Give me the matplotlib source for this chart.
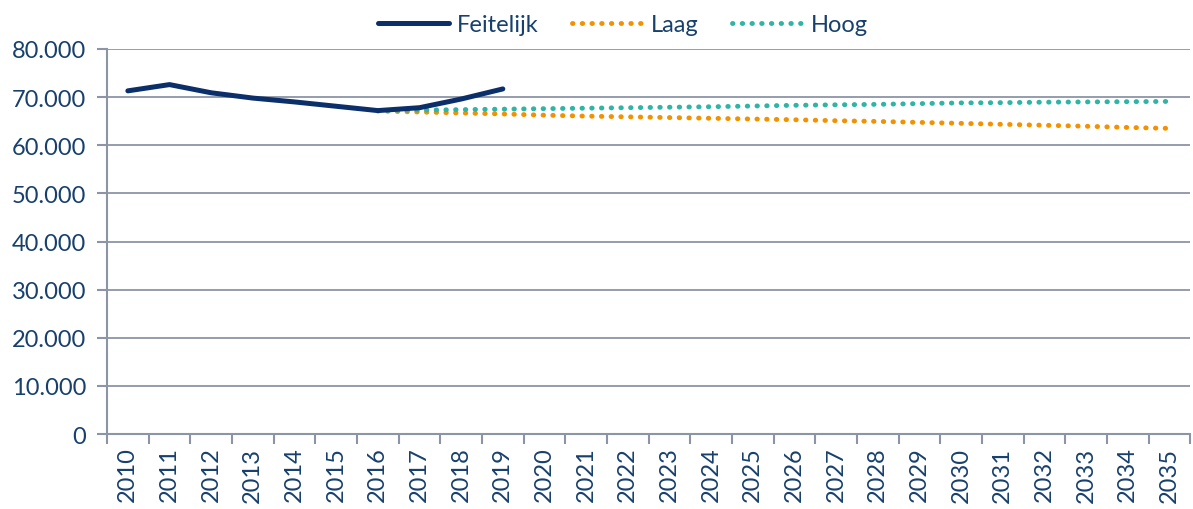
import numpy as np
import matplotlib.pyplot as plt
from matplotlib.ticker import FuncFormatter

years = list(range(2010, 2036))

feitelijk_years = list(range(2010, 2020))
feitelijk = [71300, 72600, 70900, 69800, 69000, 68100, 67200, 67800, 69600, 71700]

proj_years = list(range(2016, 2036))
laag = [67100, 66900, 66700, 66500, 66250, 66050, 65900, 65750, 65600, 65450,
        65300, 65100, 64950, 64750, 64550, 64350, 64150, 63950, 63700, 63500]
hoog = [67200, 67300, 67400, 67500, 67600, 67700, 67800, 67900, 68000, 68150,
        68300, 68400, 68500, 68650, 68800, 68850, 68950, 69000, 69050, 69100]

navy = "#0B2F6B"
orange = "#F39200"
teal = "#2EB5A6"
text_col = "#17406D"
axis_col = "#8C95A6"

plt.rcParams["font.family"] = ["Lato", "DejaVu Sans"]

fig = plt.figure(figsize=(11.93, 5.10), dpi=100)
ax = fig.add_axes([0.0897, 0.147, 0.908, 0.755])

pos = {y: i for i, y in enumerate(years)}

ax.plot([pos[y] for y in feitelijk_years], feitelijk, color=navy, lw=3.6,
        solid_capstyle="round", label="Feitelijk", zorder=3)
ax.plot([pos[y] for y in proj_years], laag, color=orange, lw=3.5,
        linestyle=(0, (0.1, 1.9)), dash_capstyle="round", label="Laag", zorder=2)
ax.plot([pos[y] for y in proj_years], hoog, color=teal, lw=3.5,
        linestyle=(0, (0.1, 1.9)), dash_capstyle="round", label="Hoog", zorder=2)

ax.set_xlim(-0.5, len(years) - 0.5)
ax.set_ylim(0, 80000)
ax.set_yticks(np.arange(0, 80001, 10000))
ax.yaxis.set_major_formatter(FuncFormatter(lambda v, p: f"{int(v):,}".replace(",", ".")))

ax.set_xticks(range(len(years)))
ax.set_xticklabels([str(y) for y in years], rotation=90)
ax.set_xticks(np.arange(-0.5, len(years), 1.0), minor=True)
ax.tick_params(axis="x", which="major", length=0, pad=9)
ax.tick_params(axis="x", which="minor", length=7, color=axis_col, width=1.5)
ax.tick_params(axis="y", length=7, color=axis_col, width=1.5, pad=8)
ax.tick_params(labelsize=17, labelcolor=text_col)

ax.grid(axis="y", color=axis_col, lw=1.3)
ax.set_axisbelow(True)
for s in ["top", "right"]:
    ax.spines[s].set_visible(False)
for s in ["left", "bottom"]:
    ax.spines[s].set_color(axis_col)
    ax.spines[s].set_linewidth(1.5)

leg = fig.legend(loc="upper center", bbox_to_anchor=(0.522, 1.012), ncol=3,
                 frameon=False, fontsize=17, handlelength=3.0, columnspacing=1.4,
                 handletextpad=0.35)
for t in leg.get_texts():
    t.set_color(text_col)

fig.savefig("out.png", dpi=100)
